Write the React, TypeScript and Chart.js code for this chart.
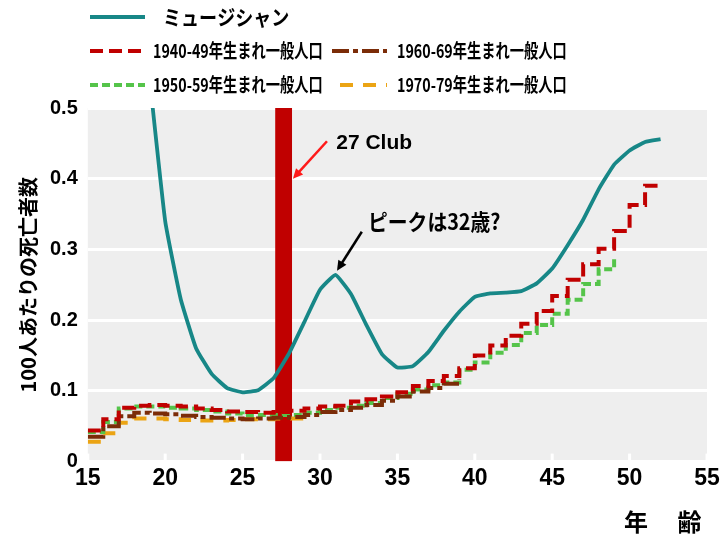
import { useEffect, useRef } from "react";
import { Chart, registerables } from "chart.js";

Chart.register(...registerables);

// ages 19..52 for musicians, 15.. for the general population cohorts
const musicianAges = [19, 20, 21, 22, 23, 24, 25, 26, 27, 28, 29, 30, 31, 32, 33, 34, 35, 36, 37, 38, 39, 40, 41, 42, 43, 44, 45, 46, 47, 48, 49, 50, 51, 52];
const musicianRate = [0.54, 0.34, 0.23, 0.16, 0.124, 0.104, 0.098, 0.101, 0.118, 0.153, 0.198, 0.243, 0.264, 0.237, 0.193, 0.152, 0.133, 0.135, 0.155, 0.185, 0.212, 0.233, 0.238, 0.239, 0.241, 0.252, 0.273, 0.306, 0.342, 0.385, 0.42, 0.44, 0.452, 0.456];

const stepAges = [15, 16, 17, 18, 19, 20, 21, 22, 23, 24, 25, 26, 27, 28, 29, 30, 31, 32, 33, 34, 35, 36, 37, 38, 39, 40, 41, 42, 43, 44, 45, 46, 47, 48, 49, 50, 51, 52];
const born1940s = [0.044, 0.06, 0.076, 0.079, 0.08, 0.079, 0.078, 0.075, 0.073, 0.071, 0.07, 0.069, 0.07, 0.072, 0.075, 0.078, 0.079, 0.085, 0.088, 0.092, 0.098, 0.107, 0.114, 0.121, 0.132, 0.15, 0.164, 0.178, 0.195, 0.213, 0.234, 0.257, 0.279, 0.301, 0.326, 0.363, 0.39, 0.39];
const born1950s = [0.042, 0.056, 0.075, 0.078, 0.078, 0.076, 0.075, 0.073, 0.071, 0.068, 0.066, 0.066, 0.066, 0.066, 0.069, 0.073, 0.076, 0.079, 0.083, 0.09, 0.096, 0.102, 0.108, 0.112, 0.13, 0.14, 0.154, 0.165, 0.182, 0.193, 0.209, 0.229, 0.251, 0.272, 0.291];
const born1960s = [0.035, 0.05, 0.064, 0.069, 0.068, 0.067, 0.065, 0.063, 0.062, 0.061, 0.06, 0.061, 0.062, 0.063, 0.066, 0.07, 0.073, 0.076, 0.08, 0.086, 0.092, 0.099, 0.104, 0.11, 0.116];
const born1970s = [0.028, 0.04, 0.055, 0.061, 0.061, 0.06, 0.059, 0.058, 0.058, 0.059, 0.06, 0.06, 0.061, 0.061, 0.061];

// the 27 Club band
const clubAges = [27.1, 28.2];
const clubTop = [0.5, 0.5];

const JP = "'Noto Sans CJK JP', sans-serif";
const NUM = "'Liberation Sans', Arial, sans-serif";

const pts = (xs, ys) => ys.map((y, i) => ({ x: xs[i], y }));

function arrow(ctx, x0, y0, x1, y1, color) {
  const ang = Math.atan2(y1 - y0, x1 - x0);
  const head = 11;
  ctx.save();
  ctx.strokeStyle = color;
  ctx.fillStyle = color;
  ctx.lineWidth = 2.5;
  ctx.beginPath();
  ctx.moveTo(x0, y0);
  ctx.lineTo(x1 - Math.cos(ang) * head * 0.8, y1 - Math.sin(ang) * head * 0.8);
  ctx.stroke();
  ctx.beginPath();
  ctx.moveTo(x1, y1);
  ctx.lineTo(x1 - head * Math.cos(ang - 0.45), y1 - head * Math.sin(ang - 0.45));
  ctx.lineTo(x1 - head * Math.cos(ang + 0.45), y1 - head * Math.sin(ang + 0.45));
  ctx.closePath();
  ctx.fill();
  ctx.restore();
}

function squeezeText(ctx, text, x, y, font, sx) {
  ctx.save();
  ctx.font = font;
  ctx.fillStyle = "#000";
  ctx.textBaseline = "middle";
  ctx.translate(x, y);
  ctx.scale(sx, 1);
  ctx.fillText(text, 0, 0);
  ctx.restore();
}

const decor = {
  id: "decor",
  beforeDraw(chart) {
    const { ctx, chartArea: a } = chart;
    ctx.save();
    ctx.fillStyle = "#eeeeee";
    ctx.fillRect(a.left, a.top, a.right - a.left, a.bottom - a.top);
    ctx.restore();
  },
  beforeDatasetsDraw(chart) {
    const { ctx, chartArea: a, scales } = chart;
    ctx.save();
    ctx.strokeStyle = "#ffffff";
    ctx.lineWidth = 3;
    scales.x.ticks.forEach((t) => {
      const px = scales.x.getPixelForValue(t.value);
      ctx.beginPath();
      ctx.moveTo(px, a.bottom);
      ctx.lineTo(px, a.bottom - 8);
      ctx.stroke();
    });
    ctx.restore();
  },
  afterDraw(chart) {
    const { ctx, scales } = chart;
    const ds = chart.data.datasets;

    // legend
    const items = [
      { d: ds[0], x0: 90, x1: 145, tx: 163, y: 17, big: true },
      { d: ds[1], x0: 90, x1: 145, tx: 153, y: 51 },
      { d: ds[2], x0: 332, x1: 387, tx: 397, y: 51 },
      { d: ds[3], x0: 90, x1: 145, tx: 153, y: 85 },
      { d: ds[4], x0: 340, x1: 387, tx: 397, y: 85 },
    ];
    items.forEach((it) => {
      ctx.save();
      ctx.strokeStyle = it.d.borderColor;
      ctx.lineWidth = it.d.borderWidth;
      ctx.setLineDash(it.d.borderDash || []);
      ctx.beginPath();
      ctx.moveTo(it.x0, it.y);
      ctx.lineTo(it.x1, it.y);
      ctx.stroke();
      ctx.restore();
      if (it.big) squeezeText(ctx, it.d.label, it.tx, it.y, `bold 21px ${JP}`, 0.86);
      else squeezeText(ctx, it.d.label, it.tx, it.y, `bold 19px ${JP}`, 0.75);
    });

    // annotations
    const X = (v) => scales.x.getPixelForValue(v);
    const Y = (v) => scales.y.getPixelForValue(v);
    arrow(ctx, X(30.45), Y(0.453), X(28.25), Y(0.4), "#ff1a1a");
    arrow(ctx, X(32.7), Y(0.325), X(31.1), Y(0.27), "#000000");
    ctx.save();
    ctx.fillStyle = "#000";
    ctx.textBaseline = "middle";
    ctx.font = `bold 21px ${NUM}`;
    ctx.fillText("27 Club", X(31.05), Y(0.45));
    ctx.restore();
    squeezeText(ctx, "ピークは32歳?", X(33.1), Y(0.339), `bold 22px ${JP}`, 0.9);
  },
};

export default function App() {
  const canvasRef = useRef(null);

  useEffect(() => {
    const chart = new Chart(canvasRef.current.getContext("2d"), {
      type: "line",
      data: {
        datasets: [
          {
            label: "ミュージシャン",
            data: pts(musicianAges, musicianRate),
            borderColor: "#178787",
            borderWidth: 3.8,
            pointRadius: 0,
            tension: 0.12,
          },
          {
            label: "1940-49年生まれ一般人口",
            data: pts(stepAges, born1940s),
            borderColor: "#c00000",
            borderWidth: 4,
            borderDash: [13, 6],
            pointRadius: 0,
            stepped: true,
          },
          {
            label: "1960-69年生まれ一般人口",
            data: pts(stepAges, born1960s),
            borderColor: "#7b2c08",
            borderWidth: 4,
            borderDash: [17, 4, 5, 4],
            pointRadius: 0,
            stepped: true,
          },
          {
            label: "1950-59年生まれ一般人口",
            data: pts(stepAges, born1950s),
            borderColor: "#55c44a",
            borderWidth: 4,
            borderDash: [8, 4],
            pointRadius: 0,
            stepped: true,
          },
          {
            label: "1970-79年生まれ一般人口",
            data: pts(stepAges, born1970s),
            borderColor: "#eba414",
            borderWidth: 4,
            borderDash: [13, 10],
            pointRadius: 0,
            stepped: true,
          },
          {
            label: "27 Club",
            data: pts(clubAges, clubTop),
            borderWidth: 0,
            pointRadius: 0,
            backgroundColor: "#c00000",
            fill: "origin",
          },
        ],
      },
      options: {
        animation: false,
        responsive: false,
        layout: { padding: { top: 108, right: 16, bottom: 0, left: 0 } },
        plugins: { legend: { display: false }, tooltip: { enabled: false } },
        scales: {
          x: {
            type: "linear",
            min: 15,
            max: 55,
            grid: { display: false, drawTicks: false },
            border: { display: false },
            ticks: {
              stepSize: 5,
              padding: 3,
              color: "#000",
              font: { family: NUM, size: 23, weight: "bold" },
            },
            title: {
              display: true,
              text: "年　 齢 ",
              align: "end",
              color: "#000",
              font: { family: JP, size: 24, weight: "bold" },
              padding: { top: 12, bottom: 10 },
            },
          },
          y: {
            min: 0,
            max: 0.5,
            grid: { color: "#ffffff", lineWidth: 3, drawTicks: false },
            border: { display: false },
            ticks: {
              stepSize: 0.1,
              padding: 10,
              color: "#000",
              font: { family: NUM, size: 20, weight: "bold" },
              callback: (v) => (v === 0 ? "0" : Number(v).toFixed(1)),
            },
            title: {
              display: true,
              text: "100人あたりの死亡者数",
              color: "#000",
              font: { family: JP, size: 20, weight: "bold" },
              padding: { top: 16, bottom: 0 },
            },
          },
        },
      },
      plugins: [decor],
    });
    return () => chart.destroy();
  }, []);

  return (
    <div style={{ position: "fixed", left: 0, top: 0, width: 723, height: 546, background: "#fff" }}>
      <canvas ref={canvasRef} width={723} height={546} />
    </div>
  );
}
